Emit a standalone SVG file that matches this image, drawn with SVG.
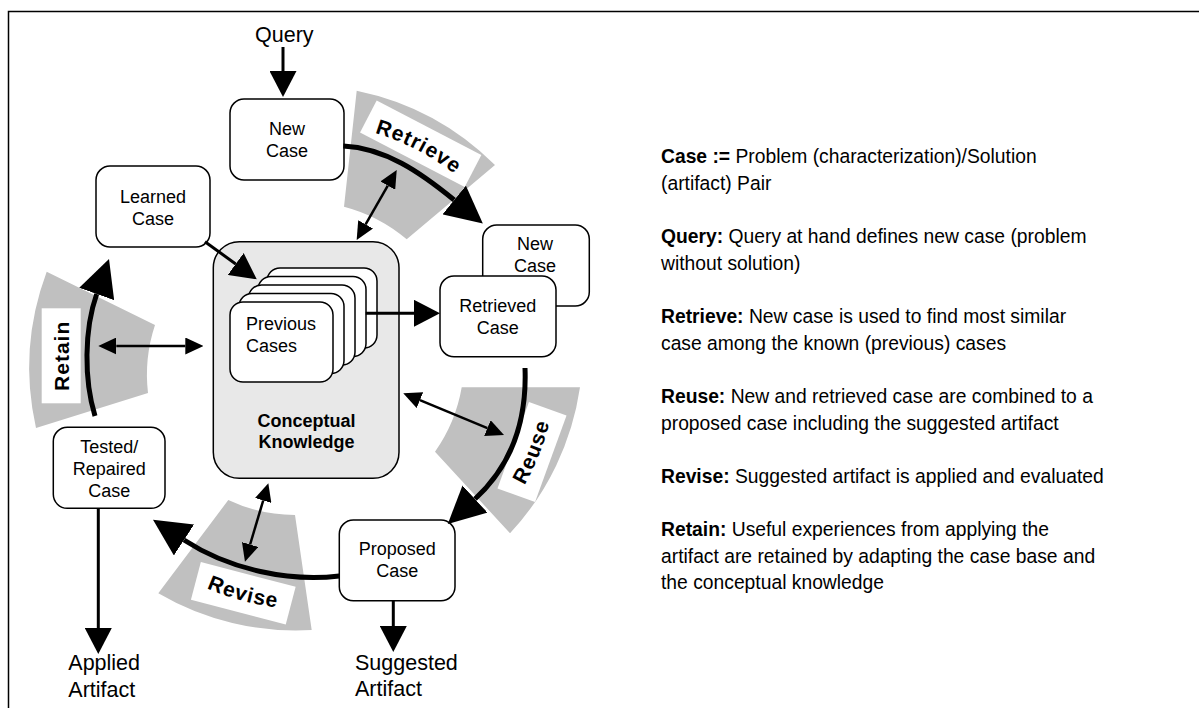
<svg xmlns="http://www.w3.org/2000/svg" width="1199" height="708" viewBox="0 0 1199 708">
<style>
text{font-family:"Liberation Sans",Arial,sans-serif;fill:#000}
.box{fill:#fff;stroke:#000;stroke-width:1.5}
.lbl{font-size:18px;text-anchor:middle}
.big{font-size:21.5px}
.leg{font-size:19.3px}
.b{font-weight:bold}
.band{fill:#c0c0c0;stroke:none}
.tag{fill:#fff;stroke:none}
.tagt{font-size:21px;font-weight:bold;letter-spacing:1px}
.arc{fill:none;stroke:#000;stroke-width:5;marker-end:url(#bigHead)}
.mid{fill:none;stroke:#000;stroke-width:3;marker-end:url(#midHead)}
.dbl{fill:none;stroke:#000;stroke-width:2.5;marker-start:url(#smallHead);marker-end:url(#smallHead)}
</style>
<defs>
<marker id="bigHead" viewBox="0 0 37 37" markerWidth="37" markerHeight="37" markerUnits="userSpaceOnUse" refX="0" refY="18.5" orient="auto"><path d="M0,0 L37,18.5 L0,37 Z" fill="#000"/></marker>
<marker id="midHead" viewBox="0 0 26 27" markerWidth="26" markerHeight="27" markerUnits="userSpaceOnUse" refX="0" refY="13.5" orient="auto"><path d="M0,0 L26,13.5 L0,27 Z" fill="#000"/></marker>
<marker id="smallHead" viewBox="0 0 18 17" markerWidth="18" markerHeight="17" markerUnits="userSpaceOnUse" refX="0" refY="8.5" orient="auto-start-reverse"><path d="M0,0 L18,8.5 L0,17 Z" fill="#000"/></marker>
<path id="pRetrieve" d="M296.4,123.2 A239,239 0 0 1 508,233"/>
<path id="pReuse" d="M461.4,558.8 A250.8,250.8 0 0 0 554.2,325.8"/>
<path id="pRevise" d="M130.7,536.1 A247.1,247.1 0 0 0 369.1,600.9"/>
</defs>
<rect x="8.5" y="11.5" width="1200" height="710" fill="#fff" stroke="#000" stroke-width="1.5"/>

<g id="phases">
<g id="retrieve-band">
<path class="band" d="M356.7,90.7 A275,275 0 0 1 495,165 L406.7,239.3 A160,160 0 0 0 344,206.7 Z"/>
<rect class="tag" x="-59" y="-18" width="118" height="36" transform="translate(420.7,143.75) rotate(27.5)"/>
<text class="tagt"><textPath href="#pRetrieve" startOffset="50%" text-anchor="middle">Retrieve</textPath></text>
</g>
<g id="reuse-band">
<path class="band" d="M461.7,387.3 L580,387.3 A272,272 0 0 1 510,533.3 L435,451.7 A157,157 0 0 0 461.7,387.3 Z"/>
<rect class="tag" x="-46" y="-20" width="92" height="40" transform="translate(532,452) rotate(-70)"/>
<text class="tagt"><textPath href="#pReuse" startOffset="50%" text-anchor="middle">Reuse</textPath></text>
</g>
<g id="revise-band">
<path class="band" d="M228.3,500 A155,155 0 0 0 295,515 L311.7,630 A272,272 0 0 1 158.3,593.3 Z"/>
<rect class="tag" x="-49" y="-19.5" width="98" height="39" transform="translate(243.3,593.3) rotate(14.7)"/>
<text class="tagt"><textPath href="#pRevise" startOffset="50%" text-anchor="middle">Revise</textPath></text>
</g>
<g id="retain-band">
<path class="band" d="M46.7,271.7 L155,325 A158,158 0 0 0 148,393 L36,428 A275,275 0 0 1 46.7,271.7 Z"/>
<rect class="tag" x="41.7" y="308.3" width="39" height="95"/>
<text class="tagt" text-anchor="middle" transform="translate(61.2,355.8) rotate(-90)" y="7.5">Retain</text>
</g>
</g>

<g id="conceptual-knowledge">
<rect x="213.3" y="241.7" width="185.7" height="236.6" rx="26" fill="#e8e8e8" stroke="#000" stroke-width="1.5"/>
<text class="b" font-size="18" text-anchor="middle" x="306.5" y="426.7">Conceptual</text>
<text class="b" font-size="18" text-anchor="middle" x="306.5" y="448.3">Knowledge</text>
</g>

<g id="previous-cases">
<rect class="box" x="267" y="268" width="110" height="80" rx="13"/>
<rect class="box" x="258" y="276.5" width="108" height="80" rx="13"/>
<rect class="box" x="248.5" y="285" width="106.5" height="80" rx="13"/>
<rect class="box" x="239" y="293.5" width="105" height="80" rx="13"/>
<rect class="box" x="230" y="302" width="103" height="80" rx="13"/>
<text font-size="18" x="246" y="330">Previous</text>
<text font-size="18" x="246" y="351.7">Cases</text>
</g>

<g id="query"><text class="big" x="255" y="42">Query</text></g>

<g id="new-case">
<rect class="box" x="230" y="99" width="114" height="81" rx="14"/>
<text class="lbl" x="287" y="135">New</text>
<text class="lbl" x="287" y="157">Case</text>
</g>

<g id="learned-case">
<rect class="box" x="96" y="166" width="114" height="81" rx="14"/>
<text class="lbl" x="153" y="203">Learned</text>
<text class="lbl" x="153" y="225">Case</text>
</g>

<g id="new-case-2">
<rect class="box" x="482.7" y="225" width="106.6" height="81" rx="14"/>
<text class="lbl" x="535" y="250">New</text>
<text class="lbl" x="535" y="271.7">Case</text>
</g>

<g id="retrieved-case">
<rect class="box" x="440" y="276" width="116" height="80.7" rx="14"/>
<text class="lbl" x="497.7" y="311.7">Retrieved</text>
<text class="lbl" x="497.7" y="334">Case</text>
</g>

<g id="proposed-case">
<rect class="box" x="339.3" y="520" width="115.7" height="80.7" rx="14"/>
<text class="lbl" x="397.3" y="555">Proposed</text>
<text class="lbl" x="397.3" y="576.7">Case</text>
</g>

<g id="tested-case">
<rect class="box" x="53.3" y="427.3" width="111.7" height="81" rx="14"/>
<text class="lbl" x="109.3" y="453.3">Tested/</text>
<text class="lbl" x="109.3" y="475">Repaired</text>
<text class="lbl" x="109.3" y="496.5">Case</text>
</g>

<g id="suggested-artifact">
<text class="big" x="355" y="670">Suggested</text>
<text class="big" x="355" y="696">Artifact</text>
</g>

<g id="applied-artifact">
<text class="big" x="68.3" y="670">Applied</text>
<text class="big" x="68.3" y="696.5">Artifact</text>
</g>

<g id="connectors">
<path class="arc" d="M343.3,146 C385,148 420,172 454.2,200"/>
<path class="arc" d="M525,368 C527,420 512,465 475,499"/>
<path class="arc" d="M339.3,576 C290,582 230,570 184,540"/>
<path class="arc" d="M95,416 C84,380 84,330 96.7,294"/>
<path class="mid" d="M283,47 L283,71"/>
<path class="mid" d="M205,241.7 L235.7,264"/>
<path class="mid" d="M365.7,313.3 L414,313.3"/>
<path class="mid" d="M393.3,600.7 L393.3,626"/>
<path class="mid" d="M98.3,508.3 L98.3,628"/>
<path class="dbl" d="M387.8,185.6 L365.6,224.4"/>
<path class="dbl" d="M116.3,346 L185.3,346"/>
<path class="dbl" d="M419.9,400.2 L487.4,428.1"/>
<path class="dbl" d="M263.2,500.5 L250.1,544.5"/>
</g>

<g id="legend" class="leg">
<text class="leg" x="661" y="163"><tspan class="b">Case :=</tspan> Problem (characterization)/Solution</text>
<text class="leg" x="661" y="189.5">(artifact) Pair</text>
<text class="leg" x="661" y="243"><tspan class="b">Query:</tspan> Query at hand defines new case (problem</text>
<text class="leg" x="661" y="269.5">without solution)</text>
<text class="leg" x="661" y="323"><tspan class="b">Retrieve:</tspan> New case is used to find most similar</text>
<text class="leg" x="661" y="349.5">case among the known (previous) cases</text>
<text class="leg" x="661" y="403"><tspan class="b">Reuse:</tspan> New and retrieved case are combined to a</text>
<text class="leg" x="661" y="429.5">proposed case including the suggested artifact</text>
<text class="leg" x="661" y="483"><tspan class="b">Revise:</tspan> Suggested artifact is applied and evaluated</text>
<text class="leg" x="661" y="536"><tspan class="b">Retain:</tspan> Useful experiences from applying the</text>
<text class="leg" x="661" y="562.5">artifact are retained by adapting the case base and</text>
<text class="leg" x="661" y="589">the conceptual knowledge</text>
</g>
</svg>
